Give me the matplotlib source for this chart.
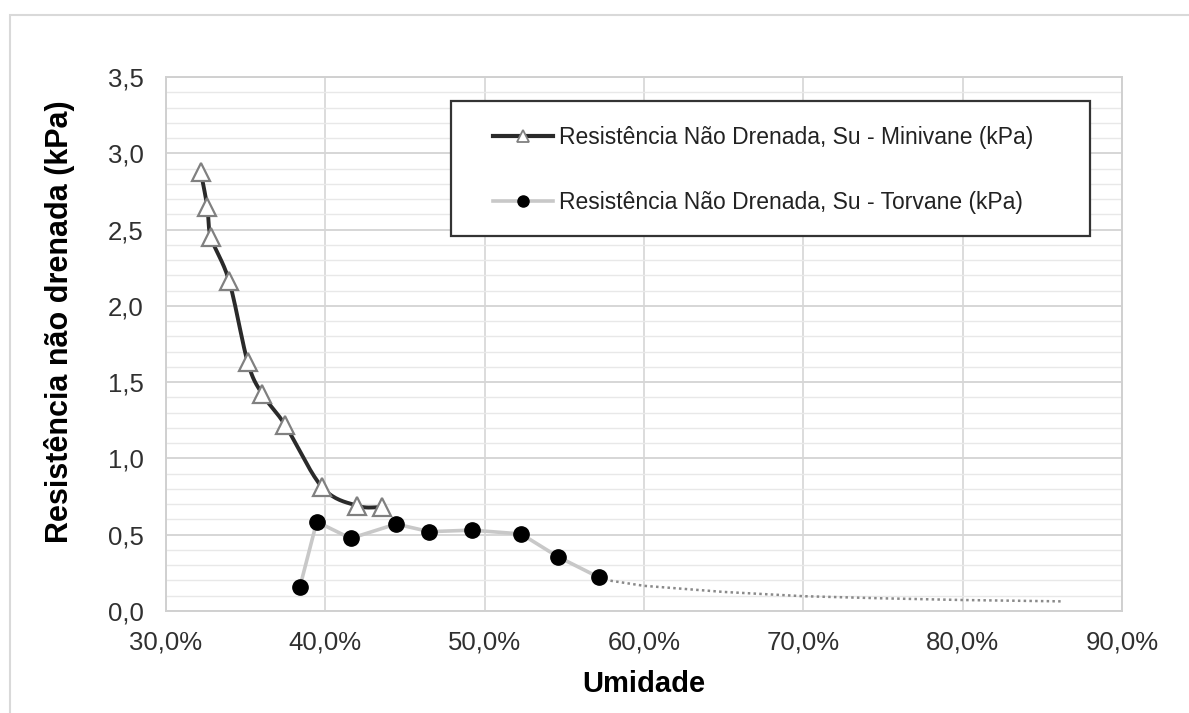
"""
Resistência não drenada x umidade - Minivane e Torvane
"""

import numpy as np
import matplotlib
matplotlib.use("Agg")
import matplotlib.pyplot as plt
from matplotlib.lines import Line2D
from matplotlib.patches import Rectangle
from matplotlib.ticker import FuncFormatter, MultipleLocator

plt.rcParams["font.family"] = ["Liberation Sans", "DejaVu Sans"]

# ------------------------
# Dados (umidade em %, resistência em kPa)
# ------------------------
umid_minivane = [32.18, 32.59, 32.82, 33.97, 35.13, 36.05, 37.47, 39.81, 42.01, 43.58]
su_minivane = [2.88, 2.65, 2.45, 2.16, 1.63, 1.42, 1.22, 0.81, 0.69, 0.68]

umid_torvane = [38.41, 39.46, 41.59, 44.44, 46.53, 49.19, 52.29, 54.59, 57.18]
su_torvane = [0.16, 0.585, 0.476, 0.57, 0.52, 0.53, 0.505, 0.356, 0.22]

# linha de tendência (pontilhada) após o último ponto do Torvane
umid_tend = [57.18, 60.0, 65.0, 70.0, 75.0, 80.0, 86.3]
su_tend = [0.21, 0.165, 0.125, 0.097, 0.083, 0.072, 0.063]

label_minivane = "Resistência Não Drenada, Su - Minivane (kPa)"
label_torvane = "Resistência Não Drenada, Su - Torvane (kPa)"


# curva suavizada (Catmull-Rom), parecida com a "linha suave" do Excel
def suavizar(x, y, n=20):
    x = np.asarray(x, float)
    y = np.asarray(y, float)
    px = np.concatenate([[2 * x[0] - x[1]], x, [2 * x[-1] - x[-2]]])
    py = np.concatenate([[2 * y[0] - y[1]], y, [2 * y[-1] - y[-2]]])
    xs, ys = [], []
    t = np.linspace(0, 1, n)
    for i in range(1, len(px) - 2):
        for p, out in ((px, xs), (py, ys)):
            p0, p1, p2, p3 = p[i - 1], p[i], p[i + 1], p[i + 2]
            out.extend(0.5 * ((2 * p1) + (-p0 + p2) * t
                              + (2 * p0 - 5 * p1 + 4 * p2 - p3) * t ** 2
                              + (-p0 + 3 * p1 - 3 * p2 + p3) * t ** 3))
    return xs, ys


W, H = 1189, 713
fig = plt.figure(figsize=(W / 100, H / 100), dpi=100)
fig.patch.set_facecolor("white")

# moldura externa do gráfico
fig.patches.append(Rectangle((10 / W, -0.2), 1.2, 1.2 - 15 / H,
                             transform=fig.transFigure, fill=False,
                             edgecolor="#d9d9d9", linewidth=1.5))

ax = fig.add_axes([166 / W, 1 - 611 / H, (1122 - 166) / W, (611 - 77) / H])
ax.set_xlim(30, 90)
ax.set_ylim(0, 3.5)

# grades
ax.yaxis.set_major_locator(MultipleLocator(0.5))
ax.yaxis.set_minor_locator(MultipleLocator(0.1))
ax.xaxis.set_major_locator(MultipleLocator(10))
ax.grid(axis="y", which="minor", color="#e8e8e8", linewidth=1.0)
ax.grid(axis="y", which="major", color="#d6d6d6", linewidth=1.4)
ax.grid(axis="x", which="major", color="#d6d6d6", linewidth=1.2)
ax.set_axisbelow(True)

for s in ax.spines.values():
    s.set_color("#d0d0d0")
    s.set_linewidth(1.4)

ax.tick_params(which="both", length=0)
ax.tick_params(axis="y", pad=16, labelsize=18.5, labelcolor="#303030")
ax.tick_params(axis="x", pad=14, labelsize=18.5, labelcolor="#303030")
ax.xaxis.set_major_formatter(FuncFormatter(lambda v, p: f"{v:.1f}%".replace(".", ",")))
ax.yaxis.set_major_formatter(FuncFormatter(lambda v, p: f"{v:.1f}".replace(".", ",")))

# séries
xs, ys = suavizar(umid_minivane, su_minivane)
ax.plot(xs, ys, color="#2a2a2a", linewidth=2.8, zorder=3)
ax.plot(umid_minivane, su_minivane, linestyle="none", marker="^", markersize=12.5,
        markerfacecolor="white", markeredgecolor="#808080", markeredgewidth=1.6, zorder=4)

ax.plot(umid_torvane, su_torvane, color="#c8c8c8", linewidth=2.6, zorder=3)
ax.plot(umid_torvane, su_torvane, linestyle="none", marker="o", markersize=11,
        color="black", zorder=4)

ax.plot(umid_tend, su_tend, color="#8a8a8a", linewidth=1.8,
        linestyle=(0, (1, 1.3)), zorder=3)

# títulos dos eixos
fig.text(644 / W, 1 - 684 / H, "Umidade", ha="center", va="center",
         fontsize=21, fontweight="bold")
fig.text(60 / W, 1 - 322 / H, "Resistência não drenada (kPa)", ha="center",
         va="center", rotation=90, fontsize=22, fontweight="bold")

# legenda
fig.patches.append(Rectangle((451 / W, 1 - 236 / H), 639 / W, 135 / H,
                             transform=fig.transFigure, facecolor="white",
                             edgecolor="#333333", linewidth=1.6, zorder=5))
handles = [
    Line2D([], [], color="#2a2a2a", linewidth=3.0, marker="^", markersize=8.5,
           markerfacecolor="white", markeredgecolor="#808080", markeredgewidth=1.3),
    Line2D([], [], color="#c8c8c8", linewidth=2.6, marker="o", markersize=8,
           markerfacecolor="black", markeredgecolor="black"),
]
leg = fig.legend(handles, [label_minivane, label_torvane], loc="upper left",
                 bbox_to_anchor=(493 / W, 1 - 126 / H), frameon=False,
                 fontsize=16.5, handlelength=2.62, handletextpad=0.26,
                 labelspacing=1.85, borderpad=0, borderaxespad=0)
leg.set_zorder(6)
for t in leg.get_texts():
    t.set_color("#222222")

fig.savefig("out.png", dpi=100, facecolor="white")
